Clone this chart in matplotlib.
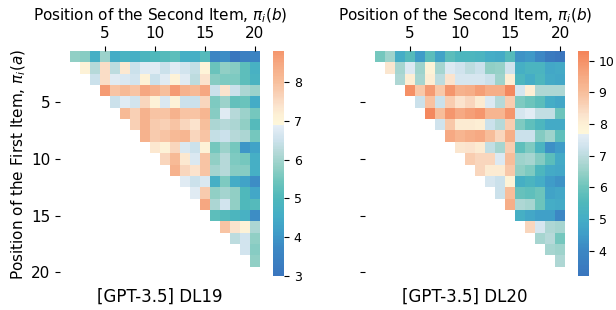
import numpy as np
import matplotlib
matplotlib.use("Agg")
import matplotlib.pyplot as plt
from matplotlib.colors import LinearSegmentedColormap
import seaborn as sns

# upper triangle of each 20x20 matrix, row r holds columns r+1..19
dl19_rows = [
    [5.8, 5.7, 4.6, 5.9, 4.5, 4.8, 4.6, 4.9, 5.0, 5.1, 5.2, 4.6, 4.6, 5.1, 3.6, 3.8, 3.0, 3.4, 3.5],
    [7.1, 6.2, 7.5, 6.3, 7.3, 6.5, 6.8, 6.8, 6.5, 6.8, 6.6, 6.4, 7.0, 5.4, 5.8, 5.7, 5.2, 4.7],
    [6.5, 7.5, 6.8, 6.7, 6.6, 7.1, 6.5, 6.8, 7.1, 6.8, 6.3, 7.4, 5.7, 5.6, 5.6, 5.2, 4.8],
    [8.7, 7.9, 8.1, 7.9, 8.5, 8.3, 8.0, 8.7, 8.3, 8.1, 8.5, 6.5, 7.4, 6.5, 6.1, 5.9],
    [6.5, 6.8, 6.6, 7.6, 7.1, 6.7, 7.1, 6.5, 6.5, 7.6, 5.6, 5.9, 5.3, 5.4, 4.5],
    [8.1, 7.7, 8.3, 7.9, 7.9, 8.3, 7.9, 7.9, 8.2, 5.7, 6.8, 6.2, 5.9, 5.5],
    [7.7, 8.3, 7.8, 7.7, 7.9, 7.6, 7.4, 8.0, 6.1, 6.2, 6.1, 5.8, 5.1],
    [8.3, 7.8, 7.9, 8.1, 8.2, 7.6, 7.9, 6.4, 6.5, 6.2, 6.1, 5.5],
    [7.3, 7.1, 7.6, 6.7, 6.5, 7.1, 5.5, 5.9, 5.5, 4.0, 4.3],
    [7.6, 8.1, 7.3, 6.7, 7.9, 5.8, 6.2, 5.6, 5.5, 4.6],
    [8.3, 7.6, 7.4, 7.9, 6.0, 6.2, 5.7, 5.7, 4.6],
    [6.8, 6.5, 6.7, 4.6, 5.6, 4.5, 4.3, 3.8],
    [6.8, 7.8, 5.8, 6.0, 5.8, 5.0, 4.4],
    [8.5, 6.1, 6.6, 5.8, 5.0, 5.1],
    [5.2, 5.1, 4.9, 4.7, 3.8],
    [7.9, 7.4, 7.1, 6.1],
    [6.3, 6.6, 5.8],
    [6.6, 5.7],
    [5.8],
]

dl20_rows = [
    [6.1, 6.6, 5.0, 5.6, 4.5, 5.7, 4.7, 5.7, 5.4, 5.4, 5.3, 5.0, 4.9, 5.6, 4.3, 4.4, 4.0, 3.4, 3.2],
    [8.2, 6.7, 7.5, 6.6, 7.9, 6.7, 7.5, 7.3, 7.0, 7.2, 6.4, 6.5, 7.3, 5.1, 5.3, 5.3, 4.8, 4.9],
    [6.8, 8.0, 6.7, 8.0, 7.0, 8.3, 7.4, 7.4, 7.4, 7.2, 6.6, 8.0, 5.4, 5.0, 5.4, 4.9, 4.8],
    [10.0, 8.8, 9.8, 8.8, 9.9, 9.3, 9.4, 9.7, 9.4, 9.4, 10.2, 7.4, 8.0, 6.8, 6.8, 6.8],
    [7.2, 8.9, 7.2, 8.7, 8.3, 8.5, 8.1, 7.5, 6.9, 8.7, 6.2, 6.0, 5.7, 5.0, 4.8],
    [10.2, 9.0, 9.9, 9.5, 9.7, 9.9, 9.2, 9.2, 9.9, 7.4, 7.6, 7.1, 7.1, 6.0],
    [7.3, 8.8, 8.1, 8.1, 8.0, 7.2, 6.9, 8.7, 6.2, 5.8, 5.4, 4.9, 4.9],
    [9.5, 9.2, 9.4, 9.5, 9.0, 8.5, 9.4, 7.2, 7.2, 6.3, 6.6, 5.8],
    [8.2, 8.3, 8.1, 7.1, 6.7, 8.7, 5.8, 6.2, 5.3, 4.2, 4.5],
    [8.7, 8.5, 8.5, 7.5, 9.0, 6.6, 6.7, 6.3, 5.7, 4.9],
    [8.5, 8.1, 8.1, 8.8, 6.4, 6.2, 5.4, 4.9, 4.8],
    [7.4, 7.2, 7.9, 5.1, 5.3, 5.0, 4.5, 4.3],
    [7.2, 9.0, 5.9, 5.8, 6.0, 4.7, 4.8],
    [9.4, 6.8, 6.7, 6.0, 5.0, 4.9],
    [5.1, 4.8, 4.6, 4.6, 4.0],
    [8.5, 7.4, 6.8, 6.7],
    [6.7, 6.9, 6.1],
    [6.7, 6.6],
    [6.8],
]

titles = ["[GPT-3.5] DL19", "[GPT-3.5] DL20"]
tick_pos = [5, 10, 15, 20]
n = 20


def to_matrix(rows):
    m = np.full((n, n), np.nan)
    for r, vals in enumerate(rows):
        m[r, r + 1:r + 1 + len(vals)] = vals
    return m


cmap = LinearSegmentedColormap.from_list("rank", [
    (0.00, "#3a76be"), (0.09, "#3c88c4"), (0.14, "#3f9cc8"), (0.20, "#45aec6"),
    (0.256, "#4fb8bb"), (0.31, "#6cc4bc"), (0.36, "#93d0c6"), (0.41, "#b5d9d8"),
    (0.45, "#cde2ec"), (0.499, "#e6eef6"), (0.50, "#fef7da"), (0.53, "#fdf1d6"),
    (0.565, "#fbe3cd"), (0.60, "#f9d2b8"), (0.65, "#f7bc98"), (0.70, "#f6aa84"),
    (0.75, "#f5946a"), (0.79, "#f4845a"), (1.00, "#ee6a3e"),
])

fig = plt.figure(figsize=(6.16, 3.10), dpi=100)
W, H = 616, 310

panels = [
    (dl19_rows, 60, 273, 3.0, 8.8, 6.9),
    (dl20_rows, 365, 578, 3.2, 10.3, 7.7),
]

for i, (rows, x0, cx0, vmin, vmax, center) in enumerate(panels):
    ax = fig.add_axes([x0 / W, 32 / H, 200 / W, 227 / H])
    cax = fig.add_axes([cx0 / W, 34 / H, 11 / W, 225 / H])
    sns.heatmap(to_matrix(rows), ax=ax, cmap=cmap, vmin=vmin, vmax=vmax,
                center=center, cbar_ax=cax, xticklabels=False, yticklabels=False)
    ax.xaxis.tick_top()
    ax.xaxis.set_label_position("top")
    ax.set_xticks([t - 0.5 for t in tick_pos])
    ax.set_xticklabels(tick_pos)
    ax.set_yticks([t - 0.5 for t in tick_pos])
    if i == 0:
        ax.set_yticklabels(tick_pos)
        ax.set_ylabel(r"Position of the First Item, $\pi_i(a)$", fontsize=11,
                      labelpad=2)
    else:
        ax.set_yticklabels([])
    ax.tick_params(labelsize=11, rotation=0)
    ax.set_xlabel(r"Position of the Second Item, $\pi_i(b)$", fontsize=11)
    ax.text(0.5, -0.083, titles[i], transform=ax.transAxes, ha="center",
            va="center", fontsize=12)
    cax.tick_params(labelsize=9)

fig.savefig("out.png", dpi=100)
